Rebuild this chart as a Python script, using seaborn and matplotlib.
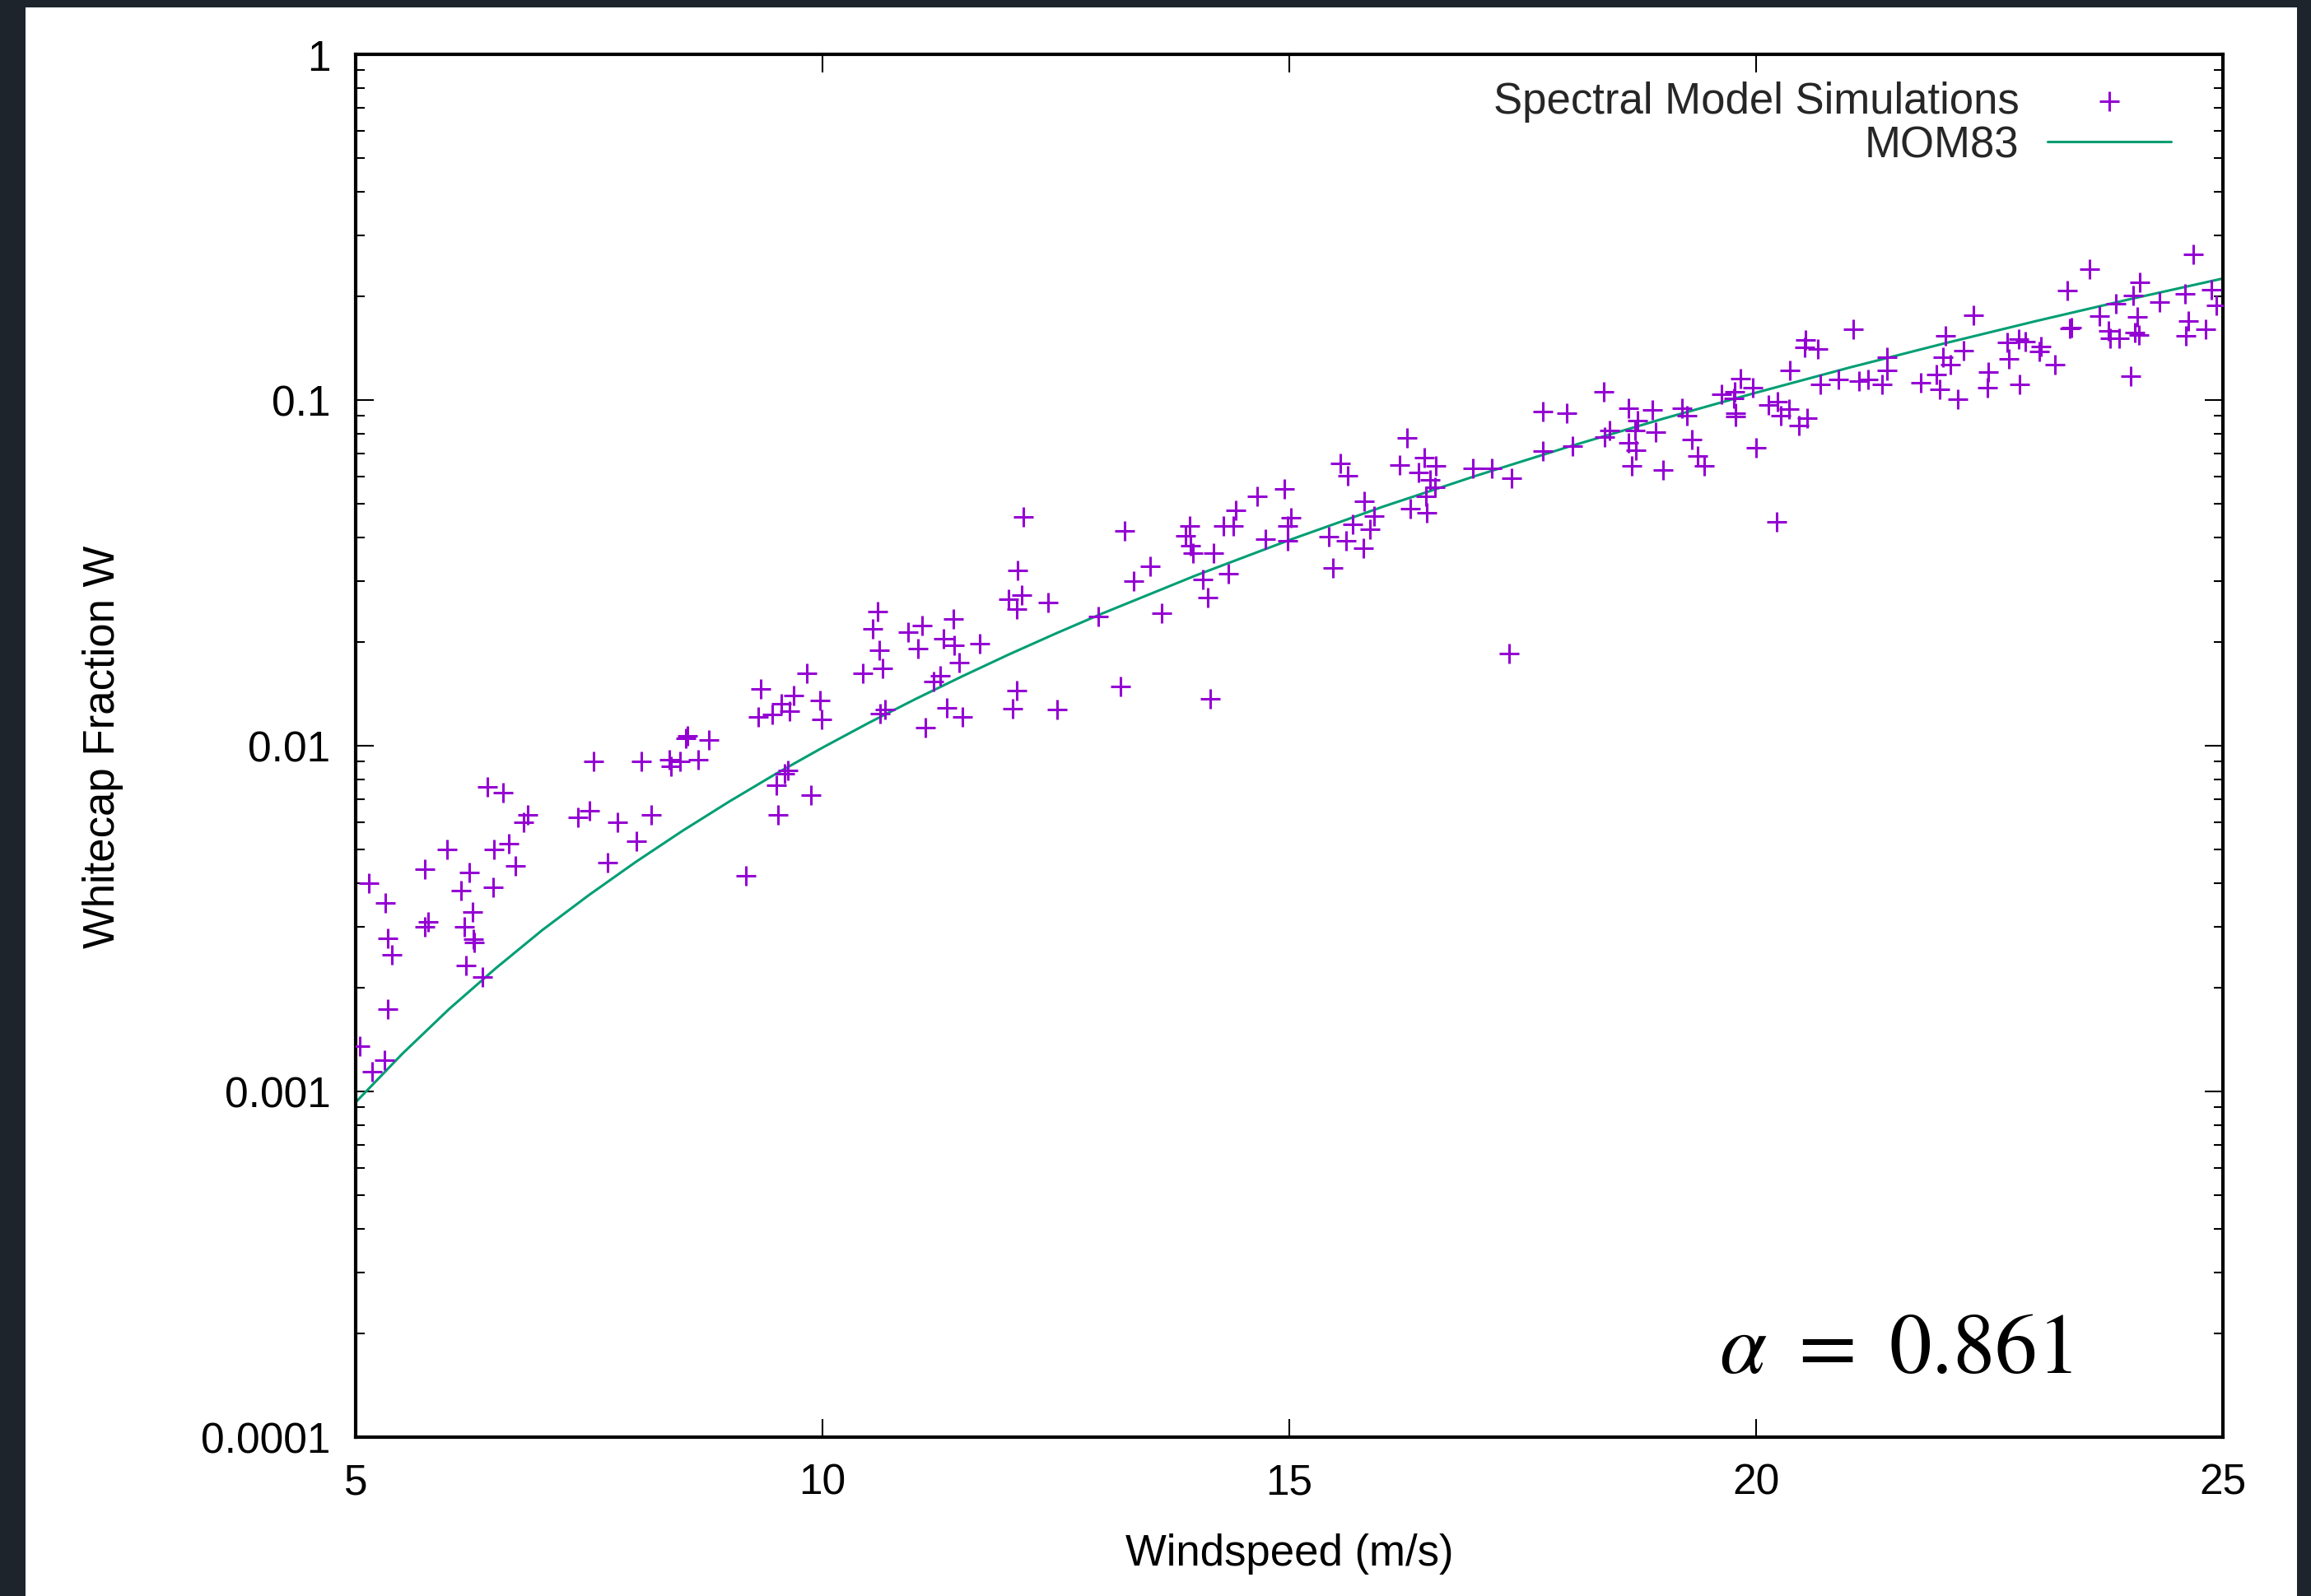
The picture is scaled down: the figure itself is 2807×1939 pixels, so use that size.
import matplotlib
matplotlib.use("Agg")
import matplotlib.pyplot as plt
import seaborn as sns
from matplotlib.patches import Rectangle
from matplotlib.ticker import LogLocator, NullFormatter, NullLocator

# spectral model runs (windspeed m/s, whitecap fraction)
sim_windspeed = [
    9.83, 9.34, 9.69, 9.56, 9.65, 9.46, 9.31, 9.97, 9.99,
    8.55, 8.54, 8.78, 7.55, 8.06, 8.36, 8.38, 8.47, 8.67,
    9.63, 9.59, 9.51, 9.88, 9.52, 9.18,
    6.41, 6.58, 6.84, 6.80, 6.64, 6.48, 5.98, 5.74, 6.22, 6.71, 6.47, 6.13,
    5.14, 5.32, 6.25, 5.78, 5.74, 6.16, 6.26, 6.27, 5.34, 5.39, 6.18, 6.36,
    5.34, 5.04, 5.31, 5.18,
    7.70, 8.01, 7.80, 8.17, 7.50, 7.38,
    12.15, 12.09, 12.13, 11.99, 12.08, 12.42, 10.59, 10.54, 10.61, 10.64,
    10.43, 10.92, 11.07, 11.02, 11.40, 11.30, 11.41, 11.68, 11.46, 11.26, 11.19,
    10.67, 10.62, 11.33, 11.50, 11.10, 12.08, 12.04, 12.51, 12.95, 13.19,
    13.24, 13.51, 13.33, 13.63, 13.93, 13.89, 13.94, 13.97, 14.19, 14.29,
    14.40, 14.43, 14.66, 14.95, 14.07, 14.35, 14.13, 14.15, 14.74, 14.98, 14.98,
    15.02, 15.55, 15.63, 16.26, 16.18, 16.45, 16.38, 16.57, 16.51, 16.56,
    16.46, 16.47, 16.30, 15.80, 15.91, 15.68, 15.86, 15.42, 15.61, 15.79, 15.47,
    16.97, 17.17, 17.38, 17.35, 17.72, 17.97, 17.72, 18.03, 18.37, 18.43,
    18.38, 18.63, 18.73, 18.70, 18.63, 18.71, 18.67, 18.89, 18.92, 19.00,
    19.21, 19.26, 19.31, 19.37, 19.44, 19.63, 19.77, 19.83, 19.96, 19.78,
    19.78, 20.00, 19.76,
    20.36, 20.13, 20.23, 20.26, 20.35, 20.46, 20.55, 20.22, 20.53, 20.52,
    20.66, 20.69, 20.88, 21.04, 21.10, 21.20, 21.35, 21.40, 21.40, 21.76,
    21.93, 21.97, 22.03, 22.00, 22.08, 22.22, 22.16, 22.33, 22.49, 22.48,
    22.69, 22.81, 22.88, 22.71, 22.82, 23.05, 23.03, 23.20, 23.33, 23.57,
    23.38, 23.36, 23.68, 23.77, 23.79, 23.89, 23.85, 24.01, 24.04, 24.11,
    24.08, 24.06, 24.10, 24.32, 24.68, 24.59, 24.63, 24.60, 24.81, 24.88, 24.93,
]
sim_whitecap = [
    0.0162, 0.0146, 0.0140, 0.0132, 0.0126, 0.0123, 0.0121, 0.0135, 0.0119,
    0.0107, 0.0105, 0.0104, 0.0090, 0.0090, 0.0091, 0.0087, 0.0090, 0.0091,
    0.0085, 0.0083, 0.0077, 0.0072, 0.0063, 0.0042,
    0.0076, 0.0073, 0.0063, 0.0060, 0.0052, 0.0050, 0.0050, 0.0044, 0.0043, 0.0045, 0.0039, 0.0038,
    0.0040, 0.0035, 0.0033, 0.0031, 0.0030, 0.0030, 0.00275, 0.0027, 0.00277, 0.00248, 0.00231, 0.00214,
    0.00173, 0.00135, 0.00123, 0.00114,
    0.0046, 0.0053, 0.0060, 0.0063, 0.0065, 0.0062,
    0.0458, 0.0321, 0.0272, 0.0265, 0.0248, 0.0260, 0.0244, 0.0218, 0.0189, 0.0167,
    0.0162, 0.0213, 0.0223, 0.0191, 0.0233, 0.0204, 0.0195, 0.0197, 0.0174, 0.0159, 0.0153,
    0.0127, 0.0124, 0.0129, 0.0121, 0.0113, 0.0144, 0.0128, 0.0127, 0.0236, 0.0148,
    0.0417, 0.0330, 0.0300, 0.0241, 0.0432, 0.0404, 0.0379, 0.0360, 0.0360, 0.0432,
    0.0432, 0.0480, 0.0526, 0.0553, 0.0303, 0.0315, 0.0268, 0.0137, 0.0395, 0.0432, 0.0391,
    0.0457, 0.0656, 0.0604, 0.0778, 0.0650, 0.0680, 0.0617, 0.0646, 0.0588, 0.0558,
    0.0526, 0.0471, 0.0485, 0.0508, 0.0462, 0.0436, 0.0423, 0.0402, 0.0392, 0.0372, 0.0326,
    0.0634, 0.0634, 0.0595, 0.0185, 0.0926, 0.0918, 0.0712, 0.0737, 0.1058, 0.0817,
    0.0780, 0.0945, 0.0873, 0.0817, 0.0752, 0.0715, 0.0643, 0.0935, 0.0809, 0.0629,
    0.0948, 0.0901, 0.0769, 0.0689, 0.0646, 0.1039, 0.1058, 0.1155, 0.1088, 0.0918,
    0.0898, 0.0728, 0.1010,
    0.1218, 0.0966, 0.0987, 0.0901, 0.0940, 0.0845, 0.0888, 0.0444, 0.1492, 0.1418,
    0.1404, 0.1112, 0.1149, 0.1605, 0.1132, 0.1149, 0.1108, 0.1330, 0.1220, 0.1124,
    0.1185, 0.1072, 0.1533, 0.1330, 0.1264, 0.1387, 0.1006, 0.1758, 0.1203, 0.1084,
    0.1466, 0.1497, 0.1476, 0.1318, 0.1112, 0.1430, 0.1384, 0.1266, 0.2073, 0.2394,
    0.1617, 0.1610, 0.1749, 0.1588, 0.1511, 0.1511, 0.1899, 0.1170, 0.2006, 0.2186,
    0.1739, 0.1567, 0.1539, 0.1916, 0.2638, 0.2032, 0.1693, 0.1531, 0.1605, 0.2081, 0.1882,
]

# MOM83 curve, values (closer spacing where it bends)
mom83_windspeed = [5, 5.5, 6, 6.5, 7, 7.5, 8, 8.5, 9, 9.5, 10, 10.5,
                   11, 11.5, 12, 12.5, 13, 14, 15, 16, 17, 18, 19, 20,
                   21, 22, 23, 24, 25]
mom83_whitecap = [0.00093, 0.001285, 0.00173, 0.00227, 0.00293, 0.00370,
                  0.00461, 0.00567, 0.00689, 0.00829, 0.00987, 0.01166,
                  0.01366, 0.01589, 0.01838, 0.02112, 0.02414, 0.03109,
                  0.03934, 0.04910, 0.06036, 0.07335, 0.0882, 0.1050,
                  0.1241, 0.1454, 0.1692, 0.1956, 0.2246]

x_ticks = [5, 10, 15, 20, 25]
y_ticks = [0.0001, 0.001, 0.01, 0.1, 1]
y_tick_labels = ["0.0001", "0.001", "0.01", "0.1", "1"]
alpha_label = r"$\alpha\ =\ 0.861$"

sns.set_theme(style="ticks")
plt.rcParams["font.family"] = ["Liberation Sans", "DejaVu Sans"]
plt.rcParams["mathtext.fontset"] = "stix"

fig = plt.figure(figsize=(28.07, 19.40), dpi=100, facecolor="#1e242c")
# white sheet on the dark background
fig.patches.append(Rectangle((31 / 2807, 0), (2790 - 31) / 2807, 1930 / 1940,
                             transform=fig.transFigure, facecolor="white",
                             edgecolor="none", zorder=-10))
ax = fig.add_axes([0.1539, 0.0995, 0.8080, 0.8660])
ax.set_facecolor("white")

sns.scatterplot(x=sim_windspeed, y=sim_whitecap, marker="+", s=290,
                color="#9400d3", linewidth=2.2,
                label="Spectral Model Simulations", ax=ax, zorder=3)
sns.lineplot(x=mom83_windspeed, y=mom83_whitecap, color="#009e73",
             linewidth=2.2, label="MOM83", ax=ax, zorder=2)

ax.set_yscale("log")
ax.set_xlim(5, 25)
ax.set_ylim(0.0001, 1)
ax.set_xticks(x_ticks)
ax.set_xticklabels([str(t) for t in x_ticks])
ax.set_yticks(y_ticks)
ax.set_yticklabels(y_tick_labels)
ax.xaxis.set_minor_locator(NullLocator())
ax.yaxis.set_minor_locator(LogLocator(base=10, subs=range(2, 10)))
ax.yaxis.set_minor_formatter(NullFormatter())

ax.tick_params(axis="both", which="major", direction="in", length=16,
               width=1.5, top=True, right=True, labelsize=37, pad=22,
               color="black", labelcolor="black")
ax.tick_params(axis="y", which="minor", direction="in", length=8,
               width=1.5, left=True, right=True, color="black")
for sp in ax.spines.values():
    sp.set_linewidth(3)
    sp.set_color("black")

ax.set_xlabel("Windspeed (m/s)", fontsize=38, color="black")
ax.xaxis.set_label_coords(0.5, -0.069)
ax.set_ylabel("Whitecap Fraction W", fontsize=38, color="black")
ax.yaxis.set_label_coords(-0.1243, 0.5)

h, l = ax.get_legend_handles_labels()
ax.legend(h, l, loc="upper right", bbox_to_anchor=(0.9722, 0.981),
          markerfirst=False, frameon=False, fontsize=38, handlelength=2.85,
          handletextpad=0.65, labelspacing=0.06, borderpad=0, borderaxespad=0)

ax.text(0.8245, 0.047, alpha_label, transform=ax.transAxes, ha="center",
        va="baseline", fontsize=74, color="black")

fig.savefig("out.png", dpi=100, facecolor=fig.get_facecolor())
